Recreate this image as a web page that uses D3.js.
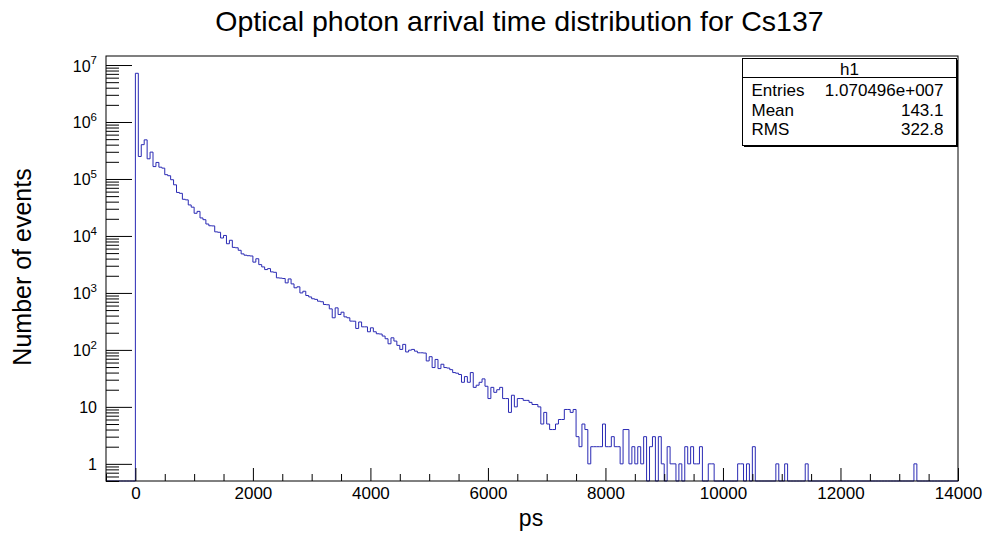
<!DOCTYPE html>
<html>
<head>
<meta charset="utf-8">
<script src="https://d3js.org/d3.v7.min.js"></script>
<style>
  body { margin: 0; background: #fff; }
  svg { display: block; font-family: "Liberation Sans", Arial, Helvetica, sans-serif; }
</style>
</head>
<body>
<div id="chart"></div>
<script>
// Histogram binning (ps)
const histLow = -500;
const histHigh = 14000;
const binWidth = 50;

// Bin contents, starting with the bin [0, 50) ps
const counts = [
  7160000, 248000, 400000, 486000, 226000, 296000, 165000, 195000, 161000, 155000,
  119000, 114000, 97000, 79000, 58000, 56000, 44000, 43000, 35000, 32000,
  25000, 27000, 20700, 19300, 16200, 15100, 15000, 11800, 11600, 9200,
  10200, 7300, 8400, 6300, 6200, 5600, 4840, 4590, 4500, 4450,
  3470, 3980, 3140, 2860, 2570, 2670, 2340, 2300, 1840, 1820,
  1790, 1500, 1760, 1440, 1230, 1280, 1000, 1070, 900, 850,
  790, 770, 716, 700, 627, 620, 525, 366, 547, 418,
  459, 380, 366, 320, 319, 238, 309, 254, 254, 208,
  244, 208, 192, 190, 175, 157, 128, 163, 143, 120,
  102, 125, 92, 99, 102, 95, 89, 89, 88, 64,
  76, 49, 68, 47, 56, 49, 48, 45, 40, 39,
  37, 27, 34, 27, 40, 22, 24, 27, 31, 23,
  14, 22, 18, 20, 22, 14, 14, 8, 16, 10,
  14, 14, 13, 13, 12, 11, 11, 10, 5, 8,
  5, 4, 4, 5, 6, 6, 9, 9, 8, 9,
  3, 2, 5, 4, 1, 2, 2, 2, 2, 5,
  2, 2, 3, 2, 2, 1, 4, 4, 1, 2,
  1, 2, 1, 3, 0, 2, 3, 0, 3, 1,
  0, 2, 1, 1, 0, 1, 0, 2, 1, 2,
  1, 1, 2
];

// Sparse late arrivals: bin start (ps) and count
const tailStarts = [9750, 9800, 10250, 10300, 10400, 10500, 10900, 11050, 11400, 13250];
const tailCounts = [1, 1, 1, 1, 1, 2, 1, 1, 1, 1];

// Axis ticks
const xMajorTicks = [0, 2000, 4000, 6000, 8000, 10000, 12000, 14000];
const yDecades = [1, 10, 1e2, 1e3, 1e4, 1e5, 1e6, 1e7];
const yMin = 0.5;
const yMax = 1.44e7;

// Stats box
const statsTitle = "h1";
const statsLabels = ["Entries", "Mean", "RMS"];
const statsValues = ["1.070496e+007", "143.1", "322.8"];

const chartTitle = "Optical photon arrival time distribution for Cs137";
const xTitle = "ps";
const yTitle = "Number of events";

const width = 985, height = 538;
const frame = { left: 106, right: 958, top: 56, bottom: 481 };
const lineColor = "#2a2ab4";

const svg = d3.select("#chart").append("svg")
  .attr("width", width)
  .attr("height", height);

const x = d3.scaleLinear().domain([histLow, histHigh]).range([frame.left, frame.right]);
const y = d3.scaleLog().domain([yMin, yMax]).range([frame.bottom, frame.top]);

// Build the full bin array over the histogram range
function buildBins() {
  const nBins = Math.round((histHigh - histLow) / binWidth);
  const bins = new Array(nBins).fill(0);
  const offset = Math.round((0 - histLow) / binWidth);
  counts.forEach((c, i) => { bins[offset + i] = c; });
  tailStarts.forEach((s, i) => { bins[Math.round((s - histLow) / binWidth)] = tailCounts[i]; });
  return bins;
}

// Draw ticks on both axes (ROOT style: ticks point into the frame)
function drawAxes() {
  const minorX = d3.range(histLow, histHigh + 1, 500).filter(v => v % 2000 !== 0);

  svg.append("g")
    .attr("transform", `translate(0,${frame.bottom})`)
    .call(d3.axisBottom(x).tickValues(minorX).tickSizeInner(-7).tickSizeOuter(0).tickFormat(""))
    .call(g => g.select(".domain").remove());

  const xAxis = svg.append("g")
    .attr("transform", `translate(0,${frame.bottom})`)
    .call(d3.axisBottom(x).tickValues(xMajorTicks).tickSizeInner(-13).tickSizeOuter(0).tickPadding(6).tickFormat(d3.format("d")))
    .call(g => g.select(".domain").remove());
  xAxis.selectAll("text")
    .attr("font-size", 17)
    .attr("font-family", "Liberation Sans, Arial, sans-serif")
    .attr("fill", "#000");

  const minorY = [];
  [0.1, ...yDecades].forEach(d => {
    for (let k = 2; k <= 9; k++) {
      const v = d * k;
      if (v >= yMin && v <= yMax) minorY.push(v);
    }
  });

  svg.append("g")
    .attr("transform", `translate(${frame.left},0)`)
    .call(d3.axisLeft(y).tickValues(minorY).tickSizeInner(-13).tickSizeOuter(0).tickFormat(""))
    .call(g => g.select(".domain").remove());

  svg.append("g")
    .attr("transform", `translate(${frame.left},0)`)
    .call(d3.axisLeft(y).tickValues(yDecades).tickSizeInner(-26).tickSizeOuter(0).tickFormat(""))
    .call(g => g.select(".domain").remove());

  // Decade labels, with superscript exponents above 10
  yDecades.forEach(v => {
    const exp = Math.round(Math.log10(v));
    const t = svg.append("text")
      .attr("x", 97)
      .attr("text-anchor", "end")
      .attr("font-size", 16)
      .attr("fill", "#000");
    if (exp < 2) {
      t.attr("y", y(v) + 6).text(String(v));
    } else {
      t.attr("y", y(v) + 6.5);
      t.append("tspan").text("10");
      t.append("tspan").attr("dy", -7.5).attr("font-size", 11.5).text(String(exp));
    }
  });

  svg.selectAll(".tick line").attr("stroke", "#000");
}

// Outline of the histogram; empty bins fall to the bottom of the frame
function drawHist(bins) {
  const yOf = v => v > 0 ? y(Math.min(v, yMax)) : y(yMin);
  const path = d3.path();
  path.moveTo(x(histLow), y(yMin));
  bins.forEach((v, i) => {
    const x1 = x(histLow + (i + 1) * binWidth);
    path.lineTo(x(histLow + i * binWidth), yOf(v));
    path.lineTo(x1, yOf(v));
  });
  svg.append("path")
    .attr("d", path.toString())
    .attr("fill", "none")
    .attr("stroke", lineColor)
    .attr("stroke-width", 1);
}

function drawFrame() {
  svg.append("rect")
    .attr("x", frame.left)
    .attr("y", frame.top)
    .attr("width", frame.right - frame.left)
    .attr("height", frame.bottom - frame.top)
    .attr("fill", "none")
    .attr("stroke", "#000")
    .attr("stroke-width", 1);
}

function drawTitles() {
  svg.append("text")
    .attr("x", 519.5).attr("y", 31)
    .attr("text-anchor", "middle")
    .attr("font-size", 28.5)
    .text(chartTitle);

  svg.append("text")
    .attr("x", 531).attr("y", 526)
    .attr("text-anchor", "middle")
    .attr("font-size", 23)
    .text(xTitle);

  svg.append("text")
    .attr("transform", "translate(31,267) rotate(-90)")
    .attr("text-anchor", "middle")
    .attr("font-size", 25)
    .text(yTitle);
}

function drawStats() {
  const box = { x: 742.5, y: 58.5, w: 214, h: 87 };
  const g = svg.append("g");

  // shadow
  g.append("rect")
    .attr("x", box.x + 1.5).attr("y", box.y + 1.5)
    .attr("width", box.w).attr("height", box.h)
    .attr("fill", "#000");
  g.append("rect")
    .attr("x", box.x).attr("y", box.y)
    .attr("width", box.w).attr("height", box.h)
    .attr("fill", "#fff")
    .attr("stroke", "#000");
  g.append("line")
    .attr("x1", box.x).attr("x2", box.x + box.w)
    .attr("y1", 77.5).attr("y2", 77.5)
    .attr("stroke", "#000");

  g.append("text")
    .attr("x", box.x + box.w / 2).attr("y", 75)
    .attr("text-anchor", "middle")
    .attr("font-size", 17)
    .text(statsTitle);

  const rowBase = [96, 115.5, 135];
  statsLabels.forEach((lab, i) => {
    g.append("text")
      .attr("x", 751.5).attr("y", rowBase[i])
      .attr("font-size", 17)
      .text(lab);
    g.append("text")
      .attr("x", 943.5).attr("y", rowBase[i])
      .attr("text-anchor", "end")
      .attr("font-size", 17)
      .text(statsValues[i]);
  });
}

const bins = buildBins();
drawHist(bins);
drawAxes();
drawFrame();
drawTitles();
drawStats();
</script>
</body>
</html>
